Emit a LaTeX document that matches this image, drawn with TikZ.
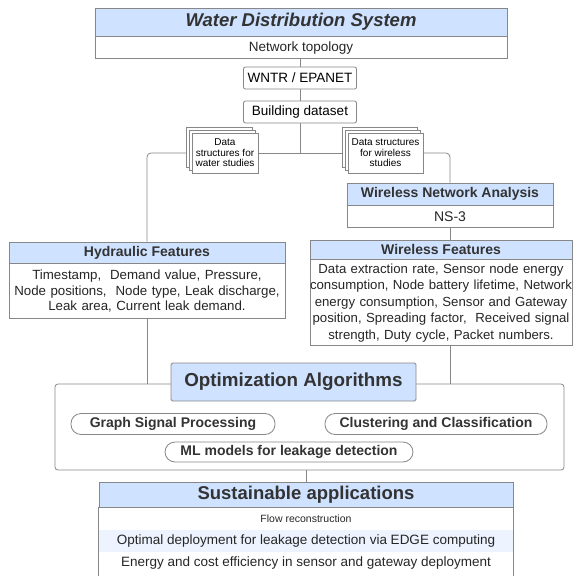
\documentclass[tikz,border=0pt]{standalone}
\usepackage{fontspec}
\setmainfont{Liberation Sans}
\usetikzlibrary{positioning,shadows,backgrounds}
\definecolor{hdrblue}{RGB}{207,226,255}
\definecolor{rowblue}{RGB}{237,244,255}
\definecolor{edgegray}{RGB}{135,135,135}
\definecolor{txtgray}{RGB}{51,51,51}

\begin{document}
\begin{tikzpicture}[x=1pt, y=-1pt,
    hdr/.style={draw=edgegray, line width=0.8pt, fill=hdrblue, text=txtgray, inner sep=0pt,
        font=\fontsize{14}{16}\selectfont\bfseries},
    bodybox/.style={draw=edgegray, line width=0.8pt, fill=white, text=black!85, inner sep=0pt,
        align=center, font=\fontsize{13.3}{15.5}\selectfont},
    tool/.style={draw=edgegray, line width=0.8pt, fill=white, rounded corners=2pt, inner sep=0pt,
        minimum width=113pt, minimum height=22pt, font=\fontsize{13.5}{15}\selectfont},
    stackbox/.style={draw=edgegray, line width=0.8pt, fill=white, inner sep=0pt, minimum height=40pt,
        double copy shadow={shadow xshift=-3pt, shadow yshift=3pt, fill=white, draw=edgegray},
        align=center, font=\fontsize{10}{10.5}\selectfont},
    pill/.style={draw=edgegray, line width=0.8pt, fill=white, rounded corners=10pt, inner sep=0pt,
        minimum height=21pt, text=txtgray, font=\fontsize{14}{16}\selectfont\bfseries},
    rowbox/.style={inner sep=0pt, minimum width=414pt, minimum height=22pt, text=black!85,
        font=\fontsize{13.5}{15}\selectfont},
    link/.style={draw=edgegray, line width=0.8pt}]
    \useasboundingbox (0,0) rectangle (582,576);

    % source of the data
    \node[hdr, minimum width=412pt, minimum height=28pt,
        font=\fontsize{18.5}{20}\selectfont\bfseries\itshape] (wds) at (301,22) {Water Distribution System};
    \node[bodybox, minimum width=412pt, minimum height=22pt, below=0pt of wds,
        font=\fontsize{13.5}{15}\selectfont] (topo) {Network topology};
    \node[tool] (wntr) at (300,78) {WNTR / EPANET};
    \node[tool] (build) at (300,112) {Building dataset};
    \coordinate (split) at (300,153);
    \node[stackbox, minimum width=66pt] (wstack) at (225,153) {Data\\structures for\\water studies};
    \node[stackbox, minimum width=75pt] (rstack) at (385.5,153) {Data structures\\for wireless\\studies};

    % wireless branch
    \node[hdr, minimum width=206pt, minimum height=22pt] (wna) at (450,194) {Wireless Network Analysis};
    \node[bodybox, minimum width=206pt, minimum height=22pt, below=0pt of wna,
        font=\fontsize{14}{16}\selectfont] (ns) {NS-3};
    \node[hdr, minimum width=262pt, minimum height=19pt] (wfeat) at (441,249.5) {Wireless Features};
    \node[bodybox, text width=262pt, minimum height=86pt, below=0pt of wfeat,
        font=\fontsize{13.2}{16.5}\selectfont] (wlist) {Data extraction rate, Sensor node energy\\
        consumption, Node battery lifetime, Network\\ energy consumption, Sensor and Gateway\\
        position, Spreading factor,~ Received signal\\ strength, Duty cycle, Packet numbers.};

    % water branch
    \node[hdr, minimum width=276pt, minimum height=21pt] (hyd) at (147,252.5) {Hydraulic Features};
    \node[bodybox, text width=276pt, minimum height=55pt, below=0pt of hyd] (hydlist)
        {Timestamp,~ Demand value, Pressure,\\ Node positions,~ Node type, Leak discharge,\\
        Leak area, Current leak demand.};

    % algorithms
    \node[draw=edgegray, line width=0.8pt, rounded corners=3pt, minimum width=509pt,
        minimum height=86pt] (optbox) at (309.5,427) {};
    \node[hdr, minimum width=245pt, minimum height=38pt, rounded corners=1.5pt,
        font=\fontsize{18.8}{20}\selectfont\bfseries] (opt) at (293.5,382) {Optimization Algorithms};
    \node[pill, minimum width=204pt] (gsp) at (173,424) {Graph Signal Processing};
    \node[pill, minimum width=222pt] (clus) at (436,424) {Clustering and Classification};
    \node[pill, minimum width=248pt, minimum height=20pt] (ml) at (289,452) {ML models for leakage detection};

    % applications
    \node[hdr, minimum width=414pt, minimum height=25pt,
        font=\fontsize{18.5}{20}\selectfont\bfseries] (sust) at (306,494.5) {Sustainable applications};
    \node[rowbox, below=0pt of sust, font=\fontsize{10.5}{12}\selectfont] (flow) {Flow reconstruction};
    \node[rowbox, fill=rowblue, below=0pt of flow] (edge) {Optimal deployment for leakage detection via EDGE computing};
    \node[rowbox, below=0pt of edge] (energy) {Energy and cost efficiency in sensor and gateway deployment};
    \coordinate (cut) at (0,590);
    \draw[link] (sust.south west) -- (sust.south west |- cut);
    \draw[link] (sust.south east) -- (sust.south east |- cut);

    \begin{scope}[on background layer]
        \draw[link] (wntr.north |- topo.south) -- (wntr.north);
        \draw[link] (wntr) -- (build);
        \draw[link] (build) -- (split);
        \draw[link] (wstack) -- (rstack);
        \draw[link, rounded corners=4pt] (wstack) -| (hyd);
        \draw[link, rounded corners=4pt] (rstack) -| (wna);
        \draw[link] (ns.south) -- (ns.south |- wfeat.north);
        \draw[link] (hydlist.south) -- (hydlist.south |- optbox.north);
        \draw[link] (ns.south |- wlist.south) -- (ns.south |- optbox.north);
        \draw[link] (sust.north |- optbox.south) -- (sust.north);
    \end{scope}
\end{tikzpicture}
\end{document}
